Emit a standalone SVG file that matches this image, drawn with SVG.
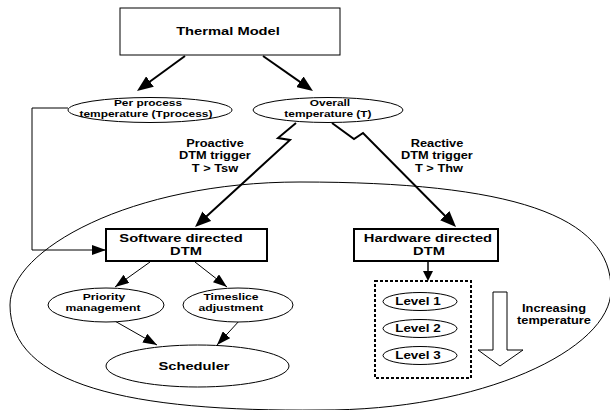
<svg xmlns="http://www.w3.org/2000/svg" width="610" height="410" viewBox="0 0 610 410">
<style>
text{font-family:"Liberation Sans",Arial,Helvetica,sans-serif;font-weight:bold;text-anchor:middle;fill:#000;transform:scaleX(1.28);transform-box:fill-box;transform-origin:center}
.l{font-size:11.5px}.m{font-size:10px}.s{font-size:9.3px}.p{font-size:9.5px}.v{font-size:10.5px}
.box{fill:#fff;stroke:#000;stroke-width:1}
.bbox{fill:#fff;stroke:#000;stroke-width:2}
.ell{fill:#fff;stroke:#000;stroke-width:1}
.thick{fill:none;stroke:#000;stroke-width:2;marker-end:url(#ah)}
.thin{fill:none;stroke:#000;stroke-width:1;marker-end:url(#as)}
</style>
<defs>
<marker id="ah" markerUnits="userSpaceOnUse" markerWidth="16" markerHeight="13" refX="8" refY="6.5" orient="auto"><path d="M0,0 L16,6.5 L0,13 z" fill="#000"/></marker>
<marker id="as" markerUnits="userSpaceOnUse" markerWidth="14" markerHeight="10" refX="14" refY="5" orient="auto"><path d="M0,0 L14,5 L0,10 z" fill="#000"/></marker>
</defs>
<rect width="610" height="410" fill="#fff"/>
<path id="region" d="M300,182 C510,182 612,215 611,290 C611,350 480,411 320,410 C130,412 10,385 10,305 C10,250 130,182 300,182 Z" fill="none" stroke="#000" stroke-width="1"/>
<g id="connectors">
<line class="thick" x1="185" y1="56" x2="143.5" y2="86.3"/>
<line class="thick" x1="263" y1="56" x2="306.4" y2="86.4"/>
<polyline class="thick" points="296,123 278,138 290,140 200.9,221.6"/>
<polyline class="thick" points="332,123 354,139 363,133 450.4,221.3"/>
<polyline class="thin" points="68,108 32,108 32,250 106,250"/>
<line class="thin" x1="150" y1="262" x2="115" y2="287"/>
<line class="thin" x1="195" y1="262" x2="227" y2="287"/>
<line class="thin" x1="113" y1="320" x2="157" y2="345"/>
<line class="thin" x1="240" y1="320" x2="217" y2="345"/>
<line x1="428" y1="261" x2="428" y2="272" stroke="#000" stroke-width="1.5"/>
<path d="M423,271 L433,271 L428,281 z" fill="#000"/>
</g>
<g id="thermal-model"><rect class="box" x="120" y="8" width="220" height="47"/><text class="l" x="228" y="35">Thermal Model</text></g>
<g id="per-process"><ellipse class="ell" cx="150" cy="110" rx="82" ry="12.5"/><text class="s" x="148" y="106">Per process</text><text class="s" x="146" y="117.5">temperature (Tprocess)</text></g>
<g id="overall"><ellipse class="ell" cx="328" cy="110" rx="75" ry="12.5"/><text class="s" x="330" y="106">Overall</text><text class="s" x="328" y="117.5">temperature (T)</text></g>
<g id="proactive-label"><text class="m" x="215" y="147">Proactive</text><text class="m" x="215" y="159.5">DTM trigger</text><text class="m" x="215" y="172">T &gt; Tsw</text></g>
<g id="reactive-label"><text class="m" x="437" y="147">Reactive</text><text class="m" x="437" y="159.5">DTM trigger</text><text class="m" x="439" y="172">T &gt; Thw</text></g>
<g id="software-dtm"><rect class="bbox" x="106" y="229" width="161" height="32"/><text class="l" x="181" y="242">Software directed</text><text class="l" x="186" y="255">DTM</text></g>
<g id="hardware-dtm"><rect class="bbox" x="354" y="229" width="144" height="32"/><text class="l" x="428" y="242">Hardware directed</text><text class="l" x="429" y="255">DTM</text></g>
<g id="priority"><ellipse class="ell" cx="106" cy="305" rx="58" ry="17"/><text class="p" x="104" y="300">Priority</text><text class="p" x="103" y="311.5">management</text></g>
<g id="timeslice"><ellipse class="ell" cx="238" cy="305" rx="55" ry="17"/><text class="p" x="231" y="300">Timeslice</text><text class="p" x="231" y="311.5">adjustment</text></g>
<g id="scheduler"><ellipse class="ell" cx="197.5" cy="366" rx="91.5" ry="21"/><text class="l" x="194" y="370">Scheduler</text></g>
<g id="levels"><rect x="375" y="281" width="96" height="97" fill="none" stroke="#000" stroke-width="2" stroke-dasharray="3,2"/></g>
<g id="level1"><ellipse class="ell" cx="420" cy="301.5" rx="37" ry="9"/><text class="v" x="418" y="305.5">Level 1</text></g>
<g id="level2"><ellipse class="ell" cx="420" cy="328.5" rx="37" ry="9"/><text class="v" x="418" y="332.5">Level 2</text></g>
<g id="level3"><ellipse class="ell" cx="420" cy="355.5" rx="37" ry="9"/><text class="v" x="418" y="359.5">Level 3</text></g>
<g id="increasing"><polygon points="493,292 507,292 507,350 523,350 500,366 478,350 493,350" fill="#fff" stroke="#000" stroke-width="1"/><text class="m" x="554" y="312">Increasing</text><text class="m" x="554" y="324">temperature</text></g>
</svg>
